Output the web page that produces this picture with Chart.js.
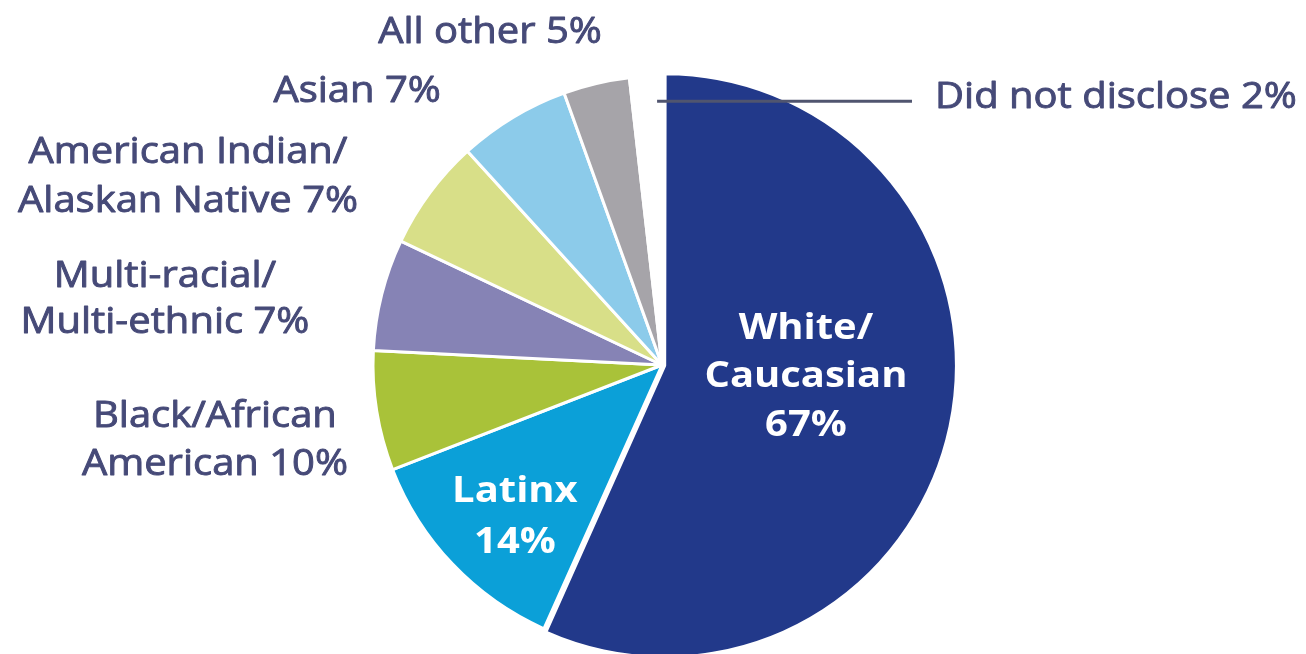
<!DOCTYPE html>
<html><head><meta charset="utf-8">
<script src="https://cdn.jsdelivr.net/npm/chart.js@4.4.0/dist/chart.umd.min.js"></script>
<style>html,body{margin:0;padding:0;background:#fff}#wrap{width:1306px;height:654px;position:relative}</style>
</head><body><div id="wrap"><canvas id="c"></canvas></div>
<script>
// ---- data ----
const categories = ['White/Caucasian','Latinx','Black/African American','Multi-racial/Multi-ethnic','American Indian/Alaskan Native','Asian','All other','Did not disclose'];
const sliceShares = [56.7, 12.4, 6.7, 6.25, 6.2, 6.25, 3.7, 1.8];
const labelPercents = ['67%','14%','10%','7%','7%','7%','5%','2%'];
const labelNameLines = [['White/','Caucasian'],['Latinx'],['Black/African','American'],['Multi-racial/','Multi-ethnic'],['American Indian/','Alaskan Native'],['Asian'],['All other'],['Did not disclose']];

// ---- style ----
const sliceColors = ['#22398a','#0ba0d8','#a9c239','#8683b5','#d8df88','#8ccbea','#a6a4a9','#ffffff'];
const sliceOffsets = [11,0,0,0,0,0,0,0];
const labelLayout = [
  {fx:0.498, fy:[-0.090,0.076,0.246], align:'center', inside:true},
  {fx:-0.509, fy:[0.474,0.651], align:'center', inside:true},
  {fx:-1.547, fy:[0.215,0.381], align:'center'},
  {fx:-1.720, fy:[-0.270,-0.111], align:'center'},
  {fx:-1.640, fy:[-0.699,-0.529], align:'center'},
  {fx:-1.055, fy:[-0.910], align:'center'},
  {fx:-0.595, fy:[-1.114], align:'center'},
  {fx:0.945, fy:[-0.889], align:'left', leader:[-0.017,0.865,-0.913]}
];
const FONT = '"Open Sans", Lato, sans-serif';
const SX = 1.11;

const labelPlugin = {
  id:'sliceLabels',
  afterDatasetsDraw(chart){
    const ref = chart.getDatasetMeta(0).data[1];
    const cx = ref.x, cy = ref.y, r = ref.outerRadius;
    const ctx = chart.ctx;
    labelLayout.forEach((L,i)=>{
      const lines = labelNameLines[i].slice();
      if (L.inside) lines.push(labelPercents[i]);
      else lines[lines.length-1] = lines[lines.length-1] + ' ' + labelPercents[i];
      if (L.leader){
        ctx.save();
        ctx.strokeStyle = '#50556f'; ctx.lineWidth = 3;
        ctx.beginPath();
        ctx.moveTo(cx + L.leader[0]*r, cy + L.leader[2]*r);
        ctx.lineTo(cx + L.leader[1]*r, cy + L.leader[2]*r);
        ctx.stroke();
        ctx.restore();
      }
      ctx.save();
      ctx.font = (L.inside ? '700 ' : '400 ') + '36px ' + FONT;
      const col = L.inside ? '#ffffff' : '#464a78';
      ctx.fillStyle = col;
      ctx.strokeStyle = col;
      ctx.lineWidth = L.inside ? 0 : 0.9;
      ctx.lineJoin = 'round';
      ctx.textAlign = L.align;
      ctx.textBaseline = 'alphabetic';
      lines.forEach((t,k)=>{
        ctx.save();
        ctx.translate(cx + L.fx*r, cy + L.fy[k]*r);
        ctx.scale(SX,1);
        ctx.fillText(t,0,0);
        if (!L.inside) ctx.strokeText(t,0,0);
        ctx.restore();
      });
      ctx.restore();
    });
  }
};

new Chart(document.getElementById('c'), {
  type:'pie',
  data:{
    labels: categories,
    datasets:[{
      data: sliceShares,
      backgroundColor: sliceColors,
      borderColor:'#ffffff',
      borderWidth:3,
      offset: sliceOffsets,
      radius: 289
    }]
  },
  options:{
    responsive:true,
    maintainAspectRatio:false,
    animation:false,
    layout:{padding:{left:362,right:344,top:76,bottom:0}},
    plugins:{legend:{display:false},tooltip:{enabled:false}}
  },
  plugins:[labelPlugin]
});
</script>
</body></html>
